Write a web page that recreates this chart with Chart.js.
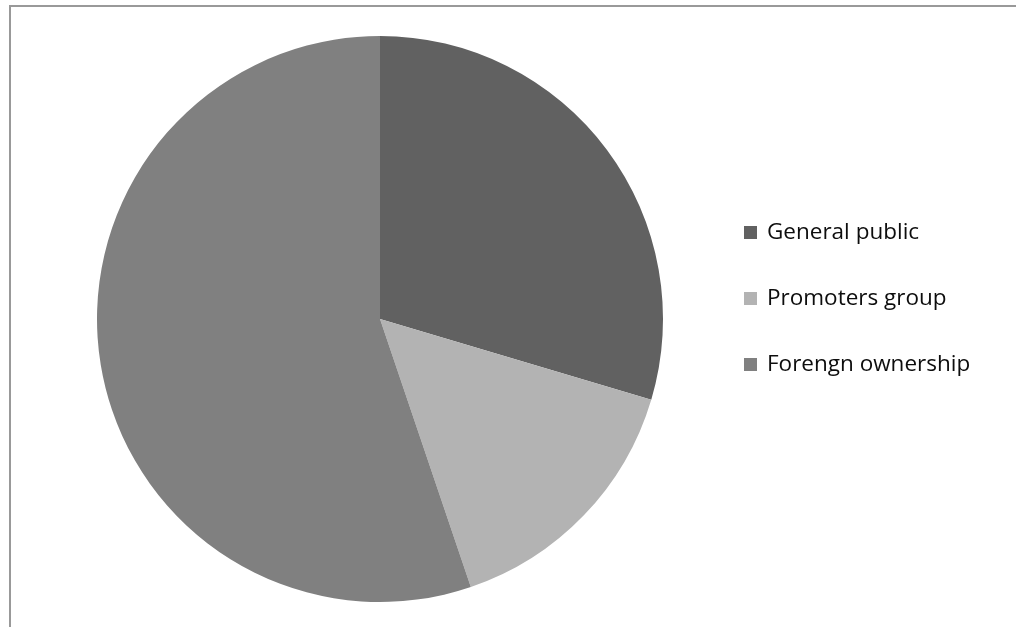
<!DOCTYPE html>
<html>
<head>
<meta charset="utf-8">
<script src="https://cdn.jsdelivr.net/npm/chart.js@4"></script>
<style>
    html, body { margin: 0; padding: 0; background: #ffffff; }
    body { width: 1016px; height: 627px; position: relative; overflow: hidden; }
    #frame {
        position: absolute; left: 9px; top: 5px; right: -4px; bottom: -4px;
        border-top: 2px solid #999999; border-left: 2px solid #999999;
    }
    #wrap { position: absolute; left: 0; top: 0; width: 1016px; height: 627px; }
    #legend {
        position: absolute; left: 744px; top: 217px; margin: 0; padding: 0;
        list-style: none; font-family: 'Open Sans', sans-serif; font-size: 22.5px; color: #0d0d0d;
    }
    #legend li { height: 28px; line-height: 28px; margin-bottom: 38px; white-space: nowrap; }
    #legend span.box {
        display: inline-block; width: 13px; height: 13px; margin-right: 10px; vertical-align: 0px;
    }
</style>
</head>
<body>
<div id="frame"></div>
<div id="wrap"><canvas id="pie" width="1016" height="627"></canvas></div>
<ul id="legend"></ul>
<script>
// Shareholding split
const labels = ['General public', 'Promoters group', 'Forengn ownership'];
const shares = [29.6, 15.2, 55.2];
const colors = ['#616161', '#b3b3b3', '#808080'];

const chart = new Chart(document.getElementById('pie').getContext('2d'), {
    type: 'pie',
    data: {
        labels: labels,
        datasets: [{
            data: shares,
            backgroundColor: colors,
            borderWidth: 0
        }]
    },
    options: {
        responsive: false,
        animation: false,
        layout: {
            padding: { left: 97, right: 353, top: 36, bottom: 25 }
        },
        plugins: {
            legend: { display: false },
            tooltip: { enabled: false }
        }
    }
});

// Legend built from the chart's own label items
const legendEl = document.getElementById('legend');
chart.options.plugins.legend.labels.generateLabels(chart).forEach(item => {
    const li = document.createElement('li');
    const box = document.createElement('span');
    box.className = 'box';
    box.style.background = item.fillStyle;
    li.appendChild(box);
    li.appendChild(document.createTextNode(item.text));
    legendEl.appendChild(li);
});
</script>
</body>
</html>
